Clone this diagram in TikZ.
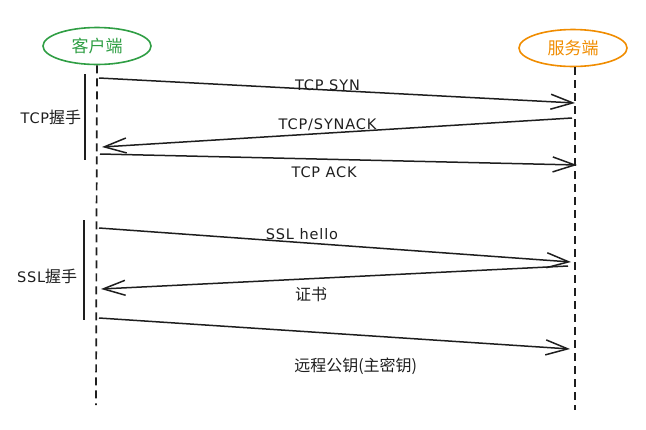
\documentclass[tikz,border=0pt]{standalone}
\usepackage{fontspec}
\setmainfont{Noto Sans CJK SC}
\newfontfamily\handfont[LetterSpace=6]{DejaVu Sans}
\usetikzlibrary{arrows.meta, shapes.geometric}
\definecolor{ink}{HTML}{1E1E1E}
\definecolor{clientgreen}{HTML}{2F9E44}
\definecolor{serverorange}{HTML}{F08C00}
\newcommand\hand[1]{{\handfont\fontsize{14.5}{16}\selectfont #1}}

\begin{document}
\begin{tikzpicture}[x=1pt, y=-1pt,
	actor/.style={ellipse, draw, line width=1.6pt, minimum width=108pt, minimum height=37pt, inner sep=0pt, font=\fontsize{17}{19}\selectfont},
	lifeline/.style={draw=ink, line width=1.7pt, dash pattern=on 8pt off 5pt},
	msg/.style={draw=ink, line width=1.5pt, -{Straight Barb[length=22pt, width=15pt, line width=1.5pt]}},
	msgtext/.style={text=ink, font=\fontsize{16}{18}\selectfont, inner sep=2pt},
	phase/.style={draw=ink, line width=1.5pt}]
\useasboundingbox (0,0) rectangle (646,429);
\node[actor, draw=clientgreen, text=clientgreen] (client) at (97,46) {客户端};
\node[actor, draw=serverorange, text=serverorange] (server) at (573,48) {服务端};
\coordinate (clientend) at (96,405);
\coordinate (serverend) at (575,410);
\draw[lifeline] (client.south) -- (clientend);
\draw[lifeline] ([xshift=2pt]server.south) -- (serverend);

\coordinate (c1) at (99,78);   \coordinate (s1) at (575,103);
\coordinate (s2) at (572,118); \coordinate (c2) at (102,147);
\coordinate (c3) at (100,154); \coordinate (s3) at (577,165);
\coordinate (c4) at (99,228);  \coordinate (s4) at (571,262);
\coordinate (s5) at (568,266); \coordinate (c5) at (101,289);
\coordinate (c6) at (99,318);  \coordinate (s6) at (570,349);

\draw[msg] (c1) -- node[msgtext, pos=0.48, above=-3pt] (syn) {\hand{TCP SYN}} (s1);
\draw[msg] (s2) -- node[msgtext, pos=0.52, above=-1pt] (synack) {\hand{TCP/SYNACK}} (c2);
\draw[msg] (c3) -- node[msgtext, pos=0.47, below=5pt] (ack) {\hand{TCP ACK}} (s3);
\draw[msg] (c4) -- node[msgtext, pos=0.43, above=0pt] (hello) {\hand{SSL hello}} (s4);
\draw[msg] (s5) -- node[msgtext, pos=0.55, below=6pt] (cert) {证书} (c5);
\draw[msg] (c6) -- node[msgtext, pos=0.545, below=20pt] (masterkey) {远程公钥(主密钥)} (s6);

\coordinate (tcptop) at (85,74);  \coordinate (tcpbot) at (85,160);
\coordinate (ssltop) at (84,220); \coordinate (sslbot) at (84,320);
\draw[phase] (tcptop) -- node[msgtext, left=1pt] (tcpphase) {\hand{TCP}握手} (tcpbot);
\draw[phase] (ssltop) -- node[msgtext, left=4pt, yshift=-6pt] (sslphase) {\hand{SSL}握手} (sslbot);
\end{tikzpicture}
\end{document}
